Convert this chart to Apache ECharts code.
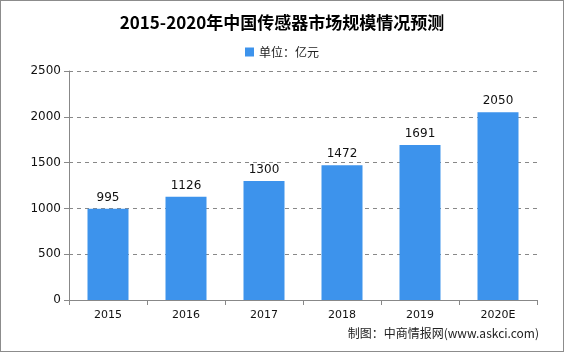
<!DOCTYPE html>
<html>
<head>
<meta charset="utf-8">
<script src="https://cdn.jsdelivr.net/npm/echarts@6/dist/echarts.min.js"></script>
<style>
  html, body { margin: 0; padding: 0; background: #fff; }
  #chart { width: 562px; height: 350px; border: 1px solid #8c8c8c; }
</style>
</head>
<body>
<div id="chart"></div>
<script>
const years = ['2015', '2016', '2017', '2018', '2019', '2020E']
const sizes = [995, 1126, 1300, 1472, 1691, 2050]
const yTicks = [0, 500, 1000, 1500, 2000, 2500]

const myChart = echarts.init(document.getElementById('chart'))
myChart.setOption({
  animation: false,
  title: {
    text: '2015-2020年中国传感器市场规模情况预测',
    left: 'center',
    top: 8,
    textStyle: { fontFamily: 'Noto Sans CJK SC', fontSize: 17, fontWeight: 'bold', color: '#000' }
  },
  legend: {
    data: ['单位：亿元'],
    top: 40,
    left: 'center',
    icon: 'rect',
    itemWidth: 9,
    itemHeight: 9,
    itemGap: 4,
    textStyle: { fontFamily: 'Noto Sans CJK SC', fontSize: 12, color: '#222' }
  },
  graphic: [{
    type: 'text',
    right: 24,
    bottom: 12,
    style: { text: '制图：中商情报网(www.askci.com)', font: '12px "Noto Sans CJK SC"', fill: '#222' }
  }],
  grid: { left: 68, right: 26, top: 70, bottom: 51 },
  xAxis: {
    type: 'category',
    data: years,
    axisLine: { lineStyle: { color: '#888' } },
    axisTick: { show: true, lineStyle: { color: '#888' } },
    axisLabel: { color: '#111', fontSize: 11, fontFamily: 'DejaVu Sans', margin: 10 }
  },
  yAxis: {
    type: 'value',
    min: 0,
    max: 2500,
    interval: 500,
    axisLine: { show: true, lineStyle: { color: '#888' } },
    axisTick: { show: true, lineStyle: { color: '#888' } },
    axisLabel: {
      color: '#111', fontSize: 12, fontFamily: 'DejaVu Sans',
      formatter: v => yTicks.includes(v) ? String(v) : ''
    },
    splitLine: { lineStyle: { color: '#888', type: [4, 4] } }
  },
  series: [{
    name: '单位：亿元',
    type: 'bar',
    data: sizes,
    barWidth: 41,
    itemStyle: { color: '#3d93ec' },
    label: { show: true, position: 'top', color: '#111', fontSize: 12, fontFamily: 'DejaVu Sans' }
  }]
})
</script>
</body>
</html>
